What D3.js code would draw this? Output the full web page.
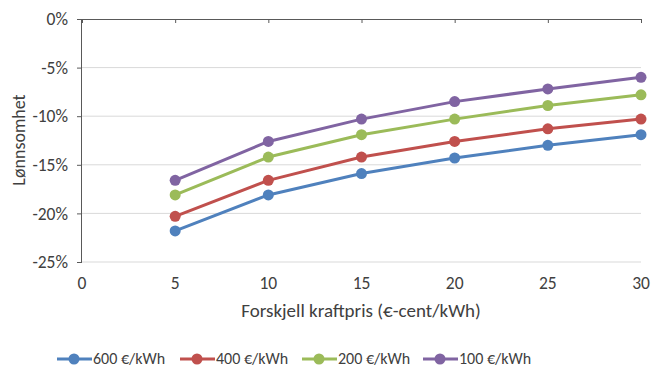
<!DOCTYPE html>
<html>
<head>
<meta charset="utf-8">
<script src="https://cdn.jsdelivr.net/npm/d3@7"></script>
<style>
  html, body { margin: 0; padding: 0; background: #fff; }
  svg text { font-family: Carlito, Lato, "Open Sans", sans-serif; fill: #404040; }
</style>
</head>
<body>
<svg id="chart" width="652" height="368"></svg>
<script>
// Price difference (€-cent/kWh) on the x axis
const prices = [5, 10, 15, 20, 25, 30];
// Profitability (%) per storage cost
const cost600 = [-21.8, -18.1, -15.9, -14.3, -13.0, -11.9];
const cost400 = [-20.3, -16.6, -14.2, -12.6, -11.3, -10.3];
const cost200 = [-18.1, -14.2, -11.9, -10.3, -8.9, -7.8];
const cost100 = [-16.6, -12.6, -10.3, -8.5, -7.2, -6.0];
const seriesNames = ["600 €/kWh", "400 €/kWh", "200 €/kWh", "100 €/kWh"];
const seriesColors = ["#4F81BD", "#C0504D", "#9BBB59", "#8064A2"];
const xTicks = [0, 5, 10, 15, 20, 25, 30];
const yTicks = [0, -5, -10, -15, -20, -25];

const series = [cost600, cost400, cost200, cost100].map((vals, i) => ({
  name: seriesNames[i], color: seriesColors[i],
  points: vals.map((v, j) => ({ x: prices[j], y: v }))
}));

const svg = d3.select("#chart");
const plotLeft = 82, plotRight = 641, plotTop = 19, plotBottom = 262;
const x = d3.scaleLinear().domain([0, 30]).range([plotLeft, plotRight]);
const y = d3.scaleLinear().domain([-25, 0]).range([plotBottom, plotTop]);
const tickFont = 17.5;

// horizontal gridlines
svg.append("g").selectAll("line").data(yTicks.filter(t => t !== 0)).join("line")
  .attr("x1", plotLeft).attr("x2", plotRight)
  .attr("y1", d => y(d)).attr("y2", d => y(d))
  .attr("stroke", "#d9d9d9").attr("stroke-width", 1);

// y axis with outward ticks
const yAxis = svg.append("g").attr("transform", `translate(${plotLeft},0)`)
  .call(d3.axisLeft(y).tickValues(yTicks).tickSize(5).tickPadding(9)
    .tickFormat(d => d + "%"));
yAxis.select(".domain").attr("stroke", "#595959").attr("d", `M-0.5,${plotTop}V${plotBottom}`);
yAxis.selectAll(".tick line").attr("stroke", "#595959");
yAxis.selectAll(".tick text").attr("font-size", tickFont).attr("fill", "#404040")
  .style("font-family", "Carlito, Lato, 'Open Sans', sans-serif");

// x axis line sits at 0%; labels sit below the plot
const xAxis = svg.append("g").attr("transform", `translate(0,${y(0)})`)
  .call(d3.axisBottom(x).tickValues(xTicks).tickSize(4).tickFormat(""));
xAxis.select(".domain").attr("stroke", "#595959").attr("d", `M${plotLeft},0.5H${plotRight}`);
xAxis.selectAll(".tick line").attr("stroke", "#595959");

svg.append("g").selectAll("text").data(xTicks).join("text")
  .attr("x", d => x(d)).attr("y", 289)
  .attr("text-anchor", "middle").attr("font-size", tickFont).text(d => d);

// axis titles
svg.append("text").attr("x", 361).attr("y", 317).attr("text-anchor", "middle")
  .attr("font-size", 19).text("Forskjell kraftpris (€-cent/kWh)");
svg.append("text").attr("transform", `translate(25,140) rotate(-90)`)
  .attr("text-anchor", "middle").attr("font-size", 18).text("Lønnsomhet");

// lines and markers
const line = d3.line().x(d => x(d.x)).y(d => y(d.y));
const g = svg.append("g");
series.forEach(s => {
  g.append("path").datum(s.points).attr("d", line)
    .attr("fill", "none").attr("stroke", s.color).attr("stroke-width", 3)
    .attr("stroke-linejoin", "round");
  g.append("g").selectAll("circle").data(s.points).join("circle")
    .attr("cx", d => x(d.x)).attr("cy", d => y(d.y)).attr("r", 5.5)
    .attr("fill", s.color);
});

// legend
const legendX = [57, 180, 302, 423];
const lg = svg.append("g");
series.forEach((s, i) => {
  const lx = legendX[i], ly = 359;
  lg.append("line").attr("x1", lx).attr("x2", lx + 35).attr("y1", ly).attr("y2", ly)
    .attr("stroke", s.color).attr("stroke-width", 3);
  lg.append("circle").attr("cx", lx + 17).attr("cy", ly).attr("r", 5.5).attr("fill", s.color);
  lg.append("text").attr("x", lx + 36).attr("y", 364).attr("font-size", 16).text(s.name);
});
</script>
</body>
</html>
